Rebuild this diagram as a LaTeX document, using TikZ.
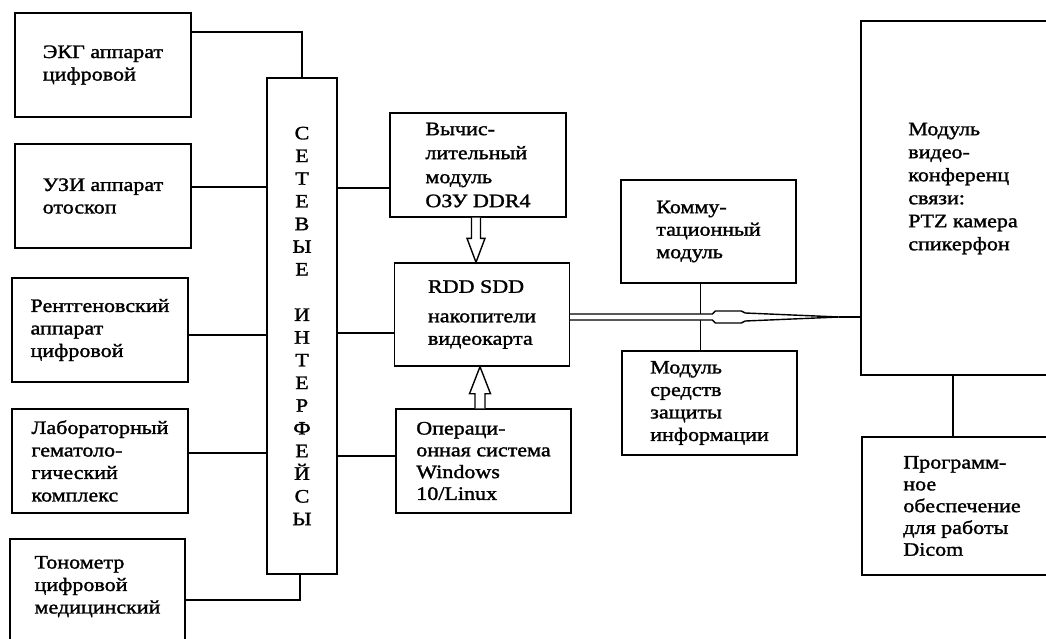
\documentclass[tikz,border=0pt]{standalone}
\usepackage{fontspec}
\setmainfont[FakeStretch=1.16,FakeBold=1.5]{Liberation Serif}
\usetikzlibrary{calc}

\begin{document}
\begin{tikzpicture}[x=1pt,y=-1pt]
\tikzset{blok/.style={draw, line width=1.4pt, align=left, inner sep=0pt,
    minimum width=176pt, minimum height=104pt,
    font=\fontsize{19}{22.5}\selectfont},
  svyaz/.style={line width=1.4pt},
  polo/.style={draw, line width=1.4pt, fill=white}}
\useasboundingbox (0,0) rectangle (1046,639);
\clip (0,0) rectangle (1046,639);
% left column
\node[blok] (EKG) at (103,65) {ЭКГ аппарат\\цифровой};
\node[blok] (UZI) at (103,196) {УЗИ аппарат\\отоскоп};
\node[blok] (RTG) at (100,330) {Рентгеновский\\аппарат\\цифровой};
\node[blok] (LAB) at (100,461) {Лабораторный\\гематоло-\\гический\\комплекс};
\node[blok, minimum width=175pt, minimum height=106pt] (TONO) at (97.5,592)
  {Тонометр\\цифровой\\медицинский\\[-8pt]\mbox{}};
\node[blok, minimum width=70pt, minimum height=496pt, align=center,
  font=\fontsize{19}{22.7}\selectfont] (SETI) at (302,326)
  {С\\Е\\Т\\Е\\В\\Ы\\Е\\[22.7pt]И\\Н\\Т\\Е\\Р\\Ф\\Е\\Й\\С\\Ы};
% middle column
\node[blok, font=\fontsize{19}{24}\selectfont] (VYCH) at (478,165)
  {Вычис-\\лительный\\модуль\\ОЗУ DDR4};
\node[blok, minimum width=175pt, minimum height=103pt] (RDD) at (482,314.5)
  {RDD SDD\\[7pt]накопители\\видеокарта};
\node[blok, minimum width=175pt, font=\fontsize{19}{21.8}\selectfont] (OPER) at (483.5,461)
  {Операци-\\онная система\\Windows\\10/Linux};
\node[blok, minimum width=175pt, minimum height=103pt] (KOMM) at (708.5,231.5)
  {Комму-\\тационный\\модуль};
\node[blok, minimum width=175pt] (ZASH) at (709.5,403)
  {Модуль\\средств\\защиты\\информации};
% right column
\node[blok, minimum width=204pt, minimum height=354pt,
  font=\fontsize{19}{23}\selectfont] (VKS) at (963,198)
  {Модуль\\видео-\\конференц\\связи:\\PTZ камера\\спикерфон\\[0pt]\mbox{}};
\node[blok, minimum width=200pt, minimum height=138pt,
  font=\fontsize{19}{21.8}\selectfont] (SOFT) at (962,506)
  {Программ-\\ное\\обеспечение\\для работы\\Dicom};
% links to the interface bus
\draw[svyaz] ([yshift=33pt]EKG.east) -| (SETI.north);
\draw[svyaz] ([yshift=9pt]UZI.east) -- ([yshift=9pt]UZI.east -| SETI.west);
\draw[svyaz] ([yshift=-5pt]RTG.east) -- ([yshift=-5pt]RTG.east -| SETI.west);
\draw[svyaz] ([yshift=8pt]LAB.east) -- ([yshift=8pt]LAB.east -| SETI.west);
\draw[svyaz] ([yshift=-8pt]TONO.east) -| ([xshift=-2pt]SETI.south);
\draw[svyaz] ([yshift=-23pt]VYCH.west) -- ([yshift=-23pt]VYCH.west -| SETI.east);
\draw[svyaz] ([yshift=-18.5pt]RDD.west) -- ([yshift=-18.5pt]RDD.west -| SETI.east);
\draw[svyaz] ([yshift=5pt]OPER.west) -- ([yshift=5pt]OPER.west -| SETI.east);
\draw[svyaz] ([xshift=-8pt]KOMM.south) -- ([xshift=-8pt]KOMM.south |- ZASH.north);
\draw[svyaz] ([xshift=-10pt]VKS.south) -- ([xshift=-10pt]VKS.south |- SOFT.north);
% hollow arrows
\draw[polo] let \p1=([xshift=-2pt]VYCH.south), \p2=(RDD.north) in
  (\x1-4.5pt,\y1) -- (\x1-4.5pt,\y2+24pt) -- (\x1-9pt,\y2+24pt) -- (\x1,\y2)
  -- (\x1+9pt,\y2+24pt) -- (\x1+4.5pt,\y2+24pt) -- (\x1+4.5pt,\y1);
\draw[polo] let \p1=([xshift=-3.5pt]OPER.north), \p2=(RDD.south) in
  (\x1-5pt,\y1) -- (\x1-5pt,\y2-27pt) -- (\x1-10.5pt,\y2-27pt) -- (\x1,\y2)
  -- (\x1+10.5pt,\y2-27pt) -- (\x1+5pt,\y2-27pt) -- (\x1+5pt,\y1);
\coordinate (b) at ([yshift=-2.5pt]RDD.east);
\draw[polo] let \p1=(b), \p2=(b -| VKS.west) in
  (\x1,\y1+3pt) -- (\x2-148pt,\y1+3pt) -- (\x2-145pt,\y1+6pt) -- (\x2-119pt,\y1+6pt)
  -- (\x2-115pt,\y1+4pt) -- (\x2-21pt,\y1) -- (\x2-115pt,\y1-4pt) -- (\x2-119pt,\y1-6pt)
  -- (\x2-145pt,\y1-6pt) -- (\x2-148pt,\y1-3pt) -- (\x1,\y1-3pt);
\draw[svyaz] let \p2=(b -| VKS.west) in (\x2-21pt,\y2) -- (b -| VKS.west);
\end{tikzpicture}
\end{document}
